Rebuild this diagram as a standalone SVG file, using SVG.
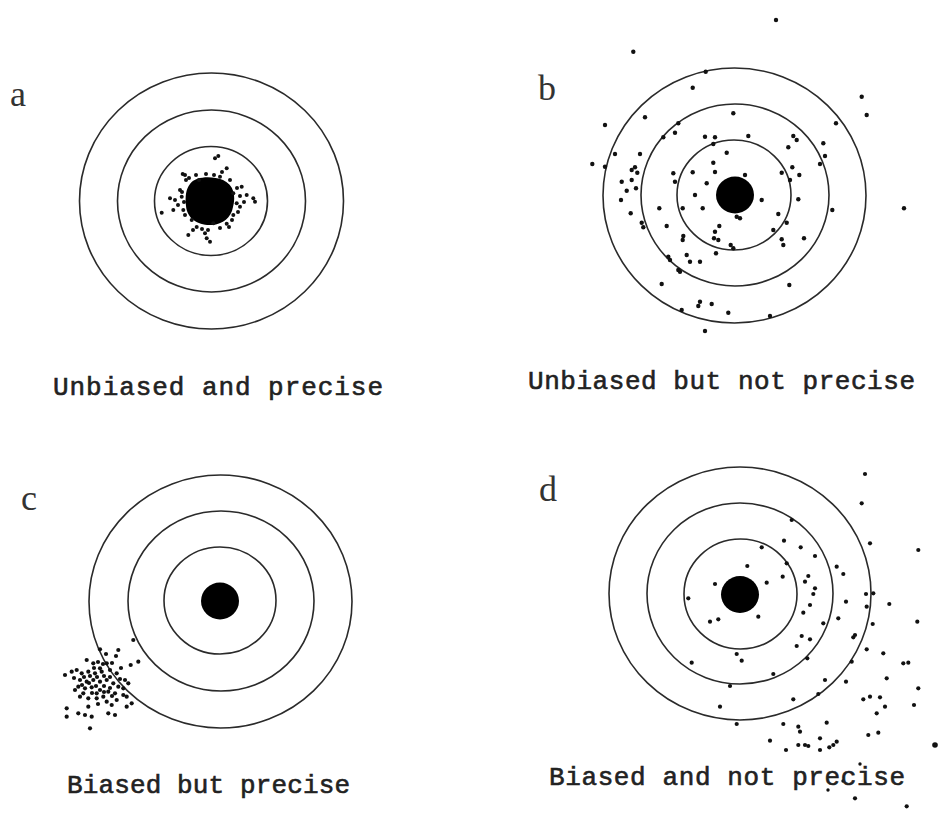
<svg xmlns="http://www.w3.org/2000/svg" width="951" height="814" viewBox="0 0 951 814">
<style>
.ring{fill:none;stroke:#2a2a2a;stroke-width:1.6}
.bull{fill:#000}
.d circle{fill:#111}
.lbl{font-family:"Liberation Mono","Courier New",monospace;font-size:26px;fill:#222;stroke:#222;stroke-width:0.6}
.let{font-family:"Liberation Serif","Times New Roman",serif;font-size:36px;fill:#333}
</style>
<rect width="951" height="814" fill="#fff"/>

<g id="panel-a">
<text class="let" x="10" y="106">a</text>
<ellipse class="ring" cx="211.5" cy="201" rx="132" ry="128"/>
<ellipse class="ring" cx="211.5" cy="201" rx="94" ry="91"/>
<ellipse class="ring" cx="211" cy="201" rx="56.5" ry="54.5"/>
<path class="bull" d="M190,184 C196,176 212,176 223,180 C234,185 236,196 233,207 C231,218 223,224 212,225 C199,226 187,219 186,206 C185,196 186,189 190,184 Z"/>
<g class="d">
<circle cx="218.3" cy="156" r="2"/><circle cx="215" cy="158.3" r="2"/><circle cx="226.7" cy="168.3" r="2"/>
<circle cx="182.7" cy="174" r="2"/><circle cx="185" cy="175" r="2"/><circle cx="220" cy="176.7" r="2"/>
<circle cx="230" cy="180" r="2"/><circle cx="241.7" cy="186.7" r="2"/><circle cx="246.7" cy="195" r="2"/>
<circle cx="253.3" cy="198.3" r="2"/><circle cx="255" cy="201.7" r="2"/><circle cx="170" cy="198.3" r="2"/>
<circle cx="175" cy="200" r="2"/><circle cx="173.3" cy="210" r="2"/><circle cx="161.7" cy="212.7" r="2"/>
<circle cx="183.3" cy="210" r="2"/><circle cx="185" cy="215" r="2"/><circle cx="188.3" cy="235" r="2"/>
<circle cx="205" cy="233.3" r="2"/><circle cx="206.7" cy="238.3" r="2"/><circle cx="210" cy="241.7" r="2"/>
<circle cx="213.3" cy="223.3" r="2"/><circle cx="220" cy="228" r="2"/><circle cx="226.7" cy="223.7" r="2"/>
<circle cx="233.3" cy="215" r="2"/><circle cx="240" cy="206.7" r="2"/><circle cx="236.7" cy="203.3" r="2"/>
<circle cx="233.3" cy="193.3" r="2"/><circle cx="191.7" cy="220" r="2"/><circle cx="196.7" cy="227" r="2"/>
<circle cx="180" cy="190" r="2"/><circle cx="181.7" cy="196.7" r="2"/><circle cx="186" cy="180" r="2"/>
<circle cx="196" cy="175" r="2"/><circle cx="206" cy="174" r="2"/><circle cx="214" cy="175" r="2"/>
<circle cx="237" cy="188" r="2"/><circle cx="238" cy="212" r="2"/><circle cx="229" cy="227" r="2"/>
<circle cx="202" cy="229" r="2"/><circle cx="184" cy="202" r="2"/><circle cx="182" cy="192" r="2"/>
<circle cx="193" cy="230" r="2"/><circle cx="222" cy="172" r="2"/><circle cx="244" cy="202" r="2"/>
<circle cx="232" cy="220" r="2"/><circle cx="189" cy="178" r="2"/><circle cx="178" cy="205" r="2"/>
<circle cx="199" cy="180" r="2"/><circle cx="208" cy="230" r="2"/><circle cx="240" cy="196" r="2"/>
</g>
</g>

<g id="panel-b">
<text class="let" x="538" y="100">b</text>
<ellipse class="ring" cx="734.5" cy="195.5" rx="131.5" ry="127.5"/>
<ellipse class="ring" cx="735" cy="195" rx="94" ry="91"/>
<ellipse class="ring" cx="734" cy="195" rx="57" ry="55"/>
<ellipse class="bull" cx="735" cy="195" rx="19" ry="18.5"/>
<g class="d">
<circle cx="776" cy="20" r="2.2"/><circle cx="633.3" cy="51.7" r="2.2"/><circle cx="705.7" cy="71.7" r="2.2"/>
<circle cx="692.7" cy="87.7" r="2.2"/><circle cx="861.7" cy="96.7" r="2.2"/><circle cx="866.7" cy="115" r="2.2"/>
<circle cx="645" cy="117.3" r="2.2"/><circle cx="605" cy="125" r="2.2"/><circle cx="836" cy="123.3" r="2.2"/>
<circle cx="733.3" cy="113.3" r="2.2"/><circle cx="678.3" cy="123.3" r="2.2"/><circle cx="675" cy="132.7" r="2.2"/>
<circle cx="663.3" cy="137.3" r="2.2"/><circle cx="705" cy="136.7" r="2.2"/><circle cx="715" cy="137.3" r="2.2"/>
<circle cx="748.3" cy="136" r="2.2"/><circle cx="793.3" cy="136" r="2.2"/><circle cx="796.7" cy="140" r="2.2"/>
<circle cx="788.3" cy="147.3" r="2.2"/><circle cx="823.3" cy="143.3" r="2.2"/><circle cx="825" cy="156" r="2.2"/>
<circle cx="820" cy="164" r="2.2"/><circle cx="713.3" cy="144" r="2.2"/><circle cx="726.7" cy="152.7" r="2.2"/>
<circle cx="615" cy="154" r="2.2"/><circle cx="640" cy="154" r="2.2"/><circle cx="592.3" cy="164" r="2.2"/>
<circle cx="605" cy="166.7" r="2.2"/><circle cx="635" cy="167.3" r="2.2"/><circle cx="631.7" cy="170" r="2.2"/>
<circle cx="637.3" cy="172.7" r="2.2"/><circle cx="713.3" cy="162.7" r="2.2"/><circle cx="715" cy="172" r="2.2"/>
<circle cx="692.7" cy="172.3" r="2.2"/><circle cx="673.3" cy="173.3" r="2.2"/><circle cx="675" cy="181.7" r="2.2"/>
<circle cx="621.7" cy="181.7" r="2.2"/><circle cx="631.7" cy="180" r="2.2"/><circle cx="636" cy="188.3" r="2.2"/>
<circle cx="626.7" cy="190.7" r="2.2"/><circle cx="621" cy="200" r="2.2"/><circle cx="706.7" cy="183.3" r="2.2"/>
<circle cx="745" cy="175" r="2.2"/><circle cx="781.7" cy="172.7" r="2.2"/><circle cx="792.3" cy="167.3" r="2.2"/>
<circle cx="799.3" cy="175" r="2.2"/><circle cx="790" cy="180" r="2.2"/><circle cx="695" cy="195" r="2.2"/>
<circle cx="761.7" cy="200" r="2.2"/><circle cx="798.3" cy="199.3" r="2.2"/><circle cx="630.7" cy="213.3" r="2.2"/>
<circle cx="659.3" cy="208.3" r="2.2"/><circle cx="682.7" cy="208.3" r="2.2"/><circle cx="702.7" cy="208.3" r="2.2"/>
<circle cx="740" cy="218.3" r="2.2"/><circle cx="736.7" cy="216.7" r="2.2"/><circle cx="778.3" cy="214" r="2.2"/>
<circle cx="832.3" cy="210" r="2.2"/><circle cx="904" cy="208.3" r="2.2"/><circle cx="641.7" cy="222.7" r="2.2"/>
<circle cx="643.3" cy="227.3" r="2.2"/><circle cx="666.7" cy="226" r="2.2"/><circle cx="719.3" cy="226" r="2.2"/>
<circle cx="715" cy="231.7" r="2.2"/><circle cx="773.3" cy="230" r="2.2"/><circle cx="786.7" cy="222.7" r="2.2"/>
<circle cx="683.3" cy="236" r="2.2"/><circle cx="682.7" cy="240" r="2.2"/><circle cx="714" cy="238.3" r="2.2"/>
<circle cx="718.3" cy="240" r="2.2"/><circle cx="781.7" cy="239.3" r="2.2"/><circle cx="783.3" cy="245" r="2.2"/>
<circle cx="804" cy="238.3" r="2.2"/><circle cx="730.7" cy="245" r="2.2"/><circle cx="733.3" cy="248.3" r="2.2"/>
<circle cx="716" cy="253.3" r="2.2"/><circle cx="686.7" cy="255" r="2.2"/><circle cx="668.3" cy="256.7" r="2.2"/>
<circle cx="670" cy="260" r="2.2"/><circle cx="690" cy="261.7" r="2.2"/><circle cx="700" cy="261.7" r="2.2"/>
<circle cx="678.3" cy="270" r="2.2"/><circle cx="680" cy="271.7" r="2.2"/><circle cx="661.7" cy="284" r="2.2"/>
<circle cx="789.3" cy="285" r="2.2"/><circle cx="700" cy="301.7" r="2.2"/><circle cx="698.3" cy="306" r="2.2"/>
<circle cx="711.7" cy="304" r="2.2"/><circle cx="728.3" cy="312.7" r="2.2"/><circle cx="681.7" cy="310" r="2.2"/>
<circle cx="770" cy="316" r="2.2"/><circle cx="705" cy="331" r="2.2"/>
</g>
</g>

<g id="panel-c">
<text class="let" x="21" y="510">c</text>
<ellipse class="ring" cx="220.5" cy="601.5" rx="131.5" ry="126.5"/>
<ellipse class="ring" cx="221" cy="601" rx="93" ry="90"/>
<ellipse class="ring" cx="220" cy="600.5" rx="56" ry="53.5"/>
<ellipse class="bull" cx="220" cy="601" rx="19" ry="18.5"/>
<g class="d">
<circle cx="133.3" cy="640" r="2.1"/><circle cx="100" cy="649.3" r="2.1"/><circle cx="118.3" cy="650" r="2.1"/>
<circle cx="106" cy="654" r="2.1"/><circle cx="138.3" cy="661.7" r="2.1"/><circle cx="130.7" cy="665" r="2.1"/>
<circle cx="116" cy="656" r="2.1"/><circle cx="86.7" cy="660" r="2.1"/><circle cx="93.3" cy="663.3" r="2.1"/>
<circle cx="106.7" cy="663.3" r="2.1"/><circle cx="100" cy="668.3" r="2.1"/><circle cx="76.7" cy="670" r="2.1"/>
<circle cx="71.7" cy="671.7" r="2.1"/><circle cx="65" cy="675" r="2.1"/><circle cx="81.7" cy="673.3" r="2.1"/>
<circle cx="88.3" cy="671.7" r="2.1"/><circle cx="95" cy="673.3" r="2.1"/><circle cx="101.7" cy="671.7" r="2.1"/>
<circle cx="110" cy="670" r="2.1"/><circle cx="116.7" cy="673.3" r="2.1"/><circle cx="125" cy="680" r="2.1"/>
<circle cx="128.3" cy="683.3" r="2.1"/><circle cx="80" cy="680" r="2.1"/><circle cx="86.7" cy="681.7" r="2.1"/>
<circle cx="93.3" cy="680" r="2.1"/><circle cx="100" cy="681.7" r="2.1"/><circle cx="106.7" cy="680" r="2.1"/>
<circle cx="113.3" cy="683.3" r="2.1"/><circle cx="118.3" cy="686.7" r="2.1"/><circle cx="78.3" cy="686.7" r="2.1"/>
<circle cx="85" cy="688.3" r="2.1"/><circle cx="91.7" cy="687.3" r="2.1"/><circle cx="100" cy="690" r="2.1"/>
<circle cx="108.3" cy="691.7" r="2.1"/><circle cx="115" cy="693.3" r="2.1"/><circle cx="123.3" cy="695" r="2.1"/>
<circle cx="80" cy="696.7" r="2.1"/><circle cx="88.3" cy="698.3" r="2.1"/><circle cx="96.7" cy="698.3" r="2.1"/>
<circle cx="106.7" cy="701.7" r="2.1"/><circle cx="111.7" cy="705" r="2.1"/><circle cx="126.7" cy="706.7" r="2.1"/>
<circle cx="131.7" cy="703.3" r="2.1"/><circle cx="66.7" cy="708.3" r="2.1"/><circle cx="78.3" cy="713.3" r="2.1"/>
<circle cx="85" cy="715" r="2.1"/><circle cx="91.7" cy="716.7" r="2.1"/><circle cx="108.3" cy="713.3" r="2.1"/>
<circle cx="115" cy="715" r="2.1"/><circle cx="66.7" cy="716.7" r="2.1"/><circle cx="90" cy="728.3" r="2.1"/>
<circle cx="75" cy="690" r="2.1"/><circle cx="83.3" cy="693.3" r="2.1"/><circle cx="96.7" cy="693.3" r="2.1"/>
<circle cx="123.3" cy="688.3" r="2.1"/><circle cx="103.3" cy="696.7" r="2.1"/><circle cx="116.7" cy="700" r="2.1"/>
<circle cx="88.3" cy="706.7" r="2.1"/><circle cx="126.7" cy="696.7" r="2.1"/>
<circle cx="90" cy="676" r="2.1"/><circle cx="97" cy="677" r="2.1"/><circle cx="104" cy="676" r="2.1"/>
<circle cx="84" cy="677" r="2.1"/><circle cx="96" cy="686" r="2.1"/><circle cx="104" cy="686" r="2.1"/>
<circle cx="110" cy="677" r="2.1"/><circle cx="92" cy="693" r="2.1"/><circle cx="110" cy="688" r="2.1"/>
<circle cx="98" cy="662" r="2.1"/><circle cx="112" cy="663" r="2.1"/><circle cx="121" cy="668" r="2.1"/>
<circle cx="82" cy="685" r="2.1"/><circle cx="89" cy="683" r="2.1"/><circle cx="94" cy="668" r="2.1"/>
<circle cx="103" cy="664" r="2.1"/><circle cx="120" cy="679" r="2.1"/><circle cx="74" cy="678" r="2.1"/>
<circle cx="104" cy="692" r="2.1"/><circle cx="112" cy="696" r="2.1"/><circle cx="98" cy="704" r="2.1"/>
</g>
</g>

<g id="panel-d">
<text class="let" x="539" y="501">d</text>
<ellipse class="ring" cx="740" cy="593.5" rx="131" ry="126.5"/>
<ellipse class="ring" cx="740" cy="593.5" rx="93" ry="90.5"/>
<ellipse class="ring" cx="740.5" cy="594" rx="56.5" ry="55"/>
<ellipse class="bull" cx="740" cy="594.5" rx="19" ry="18.5"/>
<g class="d">
<circle cx="865" cy="474" r="2.1"/><circle cx="861.7" cy="503.3" r="2.1"/><circle cx="791.7" cy="520" r="2.1"/>
<circle cx="870" cy="543.3" r="2.1"/><circle cx="918.3" cy="550" r="2.1"/><circle cx="784" cy="540.7" r="2.1"/>
<circle cx="800.7" cy="547.3" r="2.1"/><circle cx="761.7" cy="547.3" r="2.1"/><circle cx="815" cy="556" r="2.1"/>
<circle cx="786.7" cy="563.3" r="2.1"/><circle cx="836.7" cy="566.7" r="2.1"/><circle cx="843.3" cy="574" r="2.1"/>
<circle cx="747.3" cy="566" r="2.1"/><circle cx="782.7" cy="576.7" r="2.1"/><circle cx="766.7" cy="582.7" r="2.1"/>
<circle cx="715" cy="584" r="2.1"/><circle cx="808.3" cy="576" r="2.1"/><circle cx="805" cy="581.7" r="2.1"/>
<circle cx="815" cy="588.3" r="2.1"/><circle cx="813.3" cy="594" r="2.1"/><circle cx="866" cy="594" r="2.1"/>
<circle cx="873.3" cy="593.3" r="2.1"/><circle cx="688.3" cy="598.3" r="2.1"/><circle cx="846" cy="601.7" r="2.1"/>
<circle cx="889.3" cy="604" r="2.1"/><circle cx="866.7" cy="606.7" r="2.1"/><circle cx="810" cy="605" r="2.1"/>
<circle cx="803.3" cy="612.7" r="2.1"/><circle cx="838.3" cy="618.3" r="2.1"/><circle cx="917.3" cy="621.7" r="2.1"/>
<circle cx="758.3" cy="616.7" r="2.1"/><circle cx="718.3" cy="619.3" r="2.1"/><circle cx="710" cy="621.7" r="2.1"/>
<circle cx="823.3" cy="623.3" r="2.1"/><circle cx="872.7" cy="624" r="2.1"/><circle cx="855" cy="635" r="2.1"/>
<circle cx="853.3" cy="637.3" r="2.1"/><circle cx="801.7" cy="636" r="2.1"/><circle cx="810" cy="639.3" r="2.1"/>
<circle cx="796.7" cy="646" r="2.1"/><circle cx="866.7" cy="649.3" r="2.1"/><circle cx="883.3" cy="653.3" r="2.1"/>
<circle cx="903.3" cy="663.3" r="2.1"/><circle cx="908.3" cy="662.7" r="2.1"/><circle cx="736.7" cy="654" r="2.1"/>
<circle cx="741.7" cy="660.7" r="2.1"/><circle cx="691.7" cy="662.7" r="2.1"/><circle cx="807.3" cy="658.3" r="2.1"/>
<circle cx="851.7" cy="661.7" r="2.1"/><circle cx="886.7" cy="678.3" r="2.1"/><circle cx="773.3" cy="674" r="2.1"/>
<circle cx="846" cy="681.7" r="2.1"/><circle cx="825" cy="680" r="2.1"/><circle cx="730" cy="686" r="2.1"/>
<circle cx="918.3" cy="688.3" r="2.1"/><circle cx="818.3" cy="694" r="2.1"/><circle cx="793.3" cy="699.3" r="2.1"/>
<circle cx="863.3" cy="699.3" r="2.1"/><circle cx="870" cy="696.7" r="2.1"/><circle cx="880" cy="697.3" r="2.1"/>
<circle cx="885" cy="706.7" r="2.1"/><circle cx="876.7" cy="713.3" r="2.1"/><circle cx="914" cy="705" r="2.1"/>
<circle cx="720" cy="706.7" r="2.1"/><circle cx="736.7" cy="724" r="2.1"/><circle cx="783.3" cy="724" r="2.1"/>
<circle cx="798.3" cy="726.7" r="2.1"/><circle cx="800" cy="731.7" r="2.1"/><circle cx="826.7" cy="722.7" r="2.1"/>
<circle cx="878.3" cy="732.7" r="2.1"/><circle cx="868.3" cy="735" r="2.1"/><circle cx="770" cy="740.7" r="2.1"/>
<circle cx="786" cy="750" r="2.1"/><circle cx="798.3" cy="745" r="2.1"/><circle cx="805" cy="745" r="2.1"/>
<circle cx="808.3" cy="746" r="2.1"/><circle cx="820" cy="738.3" r="2.1"/><circle cx="820" cy="750" r="2.1"/>
<circle cx="829.3" cy="747.3" r="2.1"/><circle cx="833.3" cy="745" r="2.1"/><circle cx="836.7" cy="741.7" r="2.1"/>
<circle cx="935" cy="745" r="2.8"/><circle cx="855" cy="798.3" r="2.1"/><circle cx="906.7" cy="806.3" r="2.1"/>
<circle cx="828" cy="790" r="1.7"/><circle cx="843" cy="781" r="1.7"/><circle cx="860" cy="764" r="1.7"/>
</g>
</g>

<g id="labels">
<text class="lbl" x="53" y="395" textLength="330" lengthAdjust="spacing">Unbiased and precise</text>
<text class="lbl" x="528" y="389" textLength="387" lengthAdjust="spacing">Unbiased but not precise</text>
<text class="lbl" x="67" y="793" textLength="283" lengthAdjust="spacing">Biased but precise</text>
<text class="lbl" x="549" y="785" textLength="356" lengthAdjust="spacing">Biased and not precise</text>
</g>
</svg>
